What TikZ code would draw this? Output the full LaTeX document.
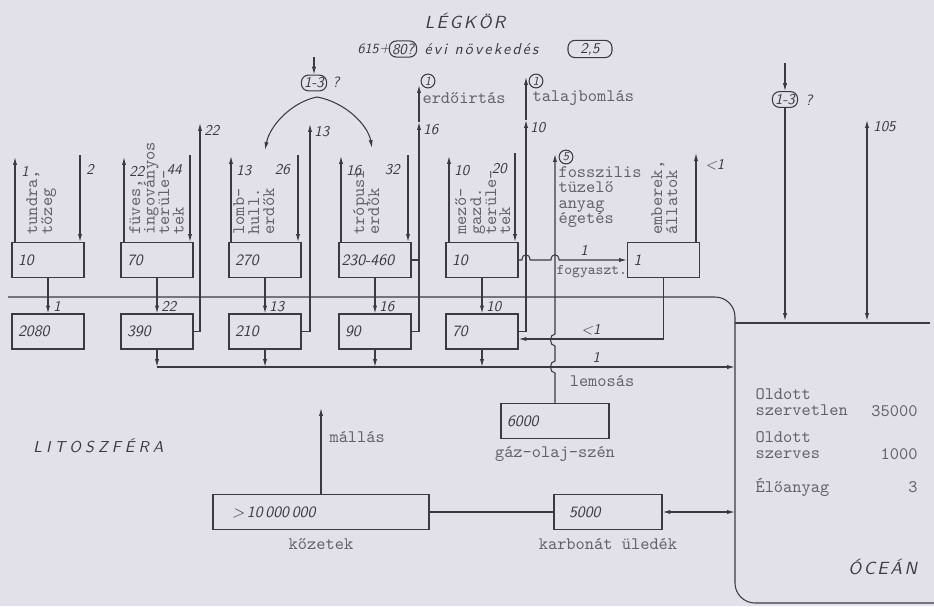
\documentclass[tikz,border=0pt]{standalone}
\usepackage{fontspec}
\usetikzlibrary{arrows.meta, positioning}
\newfontfamily\lettering{lmsans10-oblique.otf}[LetterSpace=14]
\newfontfamily\widelettering{lmsans10-oblique.otf}[LetterSpace=26]
\newfontfamily\numbering{lmsans10-oblique.otf}
\newcommand\titlefont{\lettering\fontsize{10}{10}\selectfont}
\newcommand\growthfont{\lettering\fontsize{9}{9}\selectfont}
\newcommand\litfont{\widelettering\fontsize{9}{9}\selectfont}
\newcommand\boxfont{\numbering\fontsize{9}{9}\selectfont}
\newcommand\flowfont{\numbering\fontsize{8.5}{8.5}\selectfont}
\newcommand\ringfont{\numbering\fontsize{7}{7}\selectfont}
\newcommand\typefont{\ttfamily\fontsize{10}{8.8}\selectfont}
\definecolor{paper}{RGB}{226,225,233}
\definecolor{ink}{RGB}{58,58,66}
\definecolor{typeink}{RGB}{98,98,108}

\begin{document}
\begin{tikzpicture}[x=0.02cm, y=-0.02cm, line width=0.6pt]
    \tikzset{
      poolbox/.style={draw=ink, minimum height=0.7cm, text width=1.2cm,
                      inner xsep=0.12cm, inner ysep=0pt, align=left,
                      font=\boxfont, text=ink},
      flowarrow/.style={draw=ink, -{Latex[length=4.5pt,width=2.4pt]}},
      exchange/.style={draw=ink, {Latex[length=4.5pt,width=2.4pt]}-{Latex[length=4.5pt,width=2.4pt]}},
      flowlink/.style={draw=ink},
      flownum/.style={font=\flowfont, text=ink, inner sep=1pt},
      typed/.style={font=\typefont, text=typeink, inner sep=0pt, align=left},
      sideline/.style={typed, rotate=90, anchor=base west},
      pill/.style={draw=ink, rounded corners=4pt, font=\flowfont, text=ink,
                   inner xsep=1.5pt, inner ysep=1.5pt, minimum height=0.28cm},
      ringed/.style={draw=ink, circle, font=\ringfont, text=ink, inner sep=0.7pt}}
    \fill[paper] (0,0) rectangle (934,606);
    \useasboundingbox (0,0) rectangle (934,606);

    % atmosphere heading
    \node[font=\titlefont, text=ink] (atmos) at (465,21) {LÉGKÖR};
    \node[font=\numbering\fontsize{8}{8}\selectfont, text=ink, anchor=west, inner sep=0] (stock) at (357,49) {615};
    \node[font=\numbering\fontsize{8}{8}\selectfont, text=ink, inner sep=0] (plus) at (385,49) {+};
    \node[pill] (extra) at (403,49) {80?};
    \node[font=\growthfont, text=ink, anchor=west, inner sep=0] (yearly) at (424,49) {évi növekedés};
    \node[pill, minimum width=0.88cm] (rate) at (590,49) {2,5};

    % biosphere pools
    \node[poolbox] (tundra) at (48,260) {10};
    \node[poolbox] (grass) at (157,260) {70};
    \node[poolbox] (decid) at (265,260) {270};
    \node[poolbox, inner xsep=0.05cm, text width=1.34cm] (tropic) at (375,260) {230-460};
    \node[poolbox] (farm) at (482,260) {10};
    \node[poolbox] (people) at (663.5,260) {1};

    % soil pools
    \node[poolbox] (tundrasoil) at (48,331.5) {2080};
    \node[poolbox] (grasssoil) at (157,331.5) {390};
    \node[poolbox] (decidsoil) at (265,331.5) {210};
    \node[poolbox] (tropicsoil) at (375,331.5) {90};
    \node[poolbox] (farmsoil) at (482,331.5) {70};

    % vegetation labels, one typed line each
    \node[sideline] (tundratxt1) at (37,235) {tundra,};
    \node[sideline] (tundratxt2) at (52,235) {tőzeg};
    \node[sideline] (grasstxt1) at (140,235) {füves,};
    \node[sideline] (grasstxt2) at (154.5,235) {ingoványos};
    \node[sideline] (grasstxt3) at (169,235) {terüle-};
    \node[sideline] (grasstxt4) at (183.5,235) {tek};
    \node[sideline] (decidtxt1) at (244,235) {lomb-};
    \node[sideline] (decidtxt2) at (259,235) {hull.};
    \node[sideline] (decidtxt3) at (274,235) {erdők};
    \node[sideline] (tropictxt1) at (364,235) {trópusi};
    \node[sideline] (tropictxt2) at (379,235) {erdők};
    \node[sideline] (farmtxt1) at (466,235) {mező-};
    \node[sideline] (farmtxt2) at (481,235) {gazd.};
    \node[sideline] (farmtxt3) at (496,235) {terüle-};
    \node[sideline] (farmtxt4) at (510,235) {tek};
    \node[sideline] (peopletxt1) at (662,235) {emberek,};
    \node[sideline] (peopletxt2) at (677,235) {állatok};

    % release and uptake
    \coordinate (tundraout) at (15,157);
    \coordinate (tundrain) at (80,155);
    \coordinate (grassout) at (124,157);
    \coordinate (grassin) at (190,155);
    \coordinate (decidout) at (231,156);
    \coordinate (decidin) at (298,155);
    \coordinate (tropicout) at (341,156);
    \coordinate (tropicin) at (408,155);
    \coordinate (farmout) at (449,156);
    \coordinate (farmin) at (515,153);
    \draw[flowarrow] (tundra.north -| tundraout) -- (tundraout) node[flownum, anchor=north west, xshift=0.08cm, yshift=-0.14cm] {1};
    \draw[flowarrow] (tundrain) node[flownum, anchor=north west, xshift=0.08cm, yshift=-0.14cm] {2} -- (tundra.north -| tundrain);
    \draw[flowarrow] (grass.north -| grassout) -- (grassout) node[flownum, anchor=north west, xshift=0.06cm, yshift=-0.14cm] {22};
    \draw[flowarrow] (grassin) node[flownum, anchor=north east, xshift=-0.12cm, yshift=-0.14cm] {44} -- (grass.north -| grassin);
    \draw[flowarrow] (decid.north -| decidout) -- (decidout) node[flownum, anchor=north west, xshift=0.06cm, yshift=-0.14cm] {13};
    \draw[flowarrow] (decidin) node[flownum, anchor=north east, xshift=-0.12cm, yshift=-0.14cm] {26} -- (decid.north -| decidin);
    \draw[flowarrow] (tropic.north -| tropicout) -- (tropicout) node[flownum, anchor=north west, xshift=0.06cm, yshift=-0.14cm] {16};
    \draw[flowarrow] (tropicin) node[flownum, anchor=north east, xshift=-0.12cm, yshift=-0.14cm] {32} -- (tropic.north -| tropicin);
    \draw[flowarrow] (farm.north -| farmout) -- (farmout) node[flownum, anchor=north west, xshift=0.06cm, yshift=-0.14cm] {10};
    \draw[flowarrow] (farmin) node[flownum, anchor=north east, xshift=-0.12cm, yshift=-0.16cm] {20} -- (farm.north -| farmin);

    % litter to soil
    \draw[flowarrow] (tundra) -- (tundrasoil) node[flownum, pos=0.8, anchor=west, xshift=0.06cm] {1};
    \draw[flowarrow] (grass) -- (grasssoil) node[flownum, pos=0.8, anchor=west, xshift=0.04cm] {22};
    \draw[flowarrow] (decid) -- (decidsoil) node[flownum, pos=0.8, anchor=west, xshift=0.04cm] {13};
    \draw[flowarrow] (tropic) -- (tropicsoil) node[flownum, pos=0.8, anchor=west, xshift=0.04cm] {16};
    \draw[flowarrow] (farm) -- (farmsoil) node[flownum, pos=0.8, anchor=west, xshift=0.04cm] {10};

    % soil respiration
    \coordinate (grassresp) at (200,123);
    \coordinate (decidresp) at (310,124);
    \coordinate (tropicresp) at (419,122);
    \coordinate (clearing) at (419,85);
    \coordinate (farmresp) at (526,120);
    \coordinate (decay) at (526,77);
    \draw[flowarrow] (grasssoil.east) -| (grassresp) node[flownum, anchor=north west, xshift=0.04cm] {22};
    \draw[flowarrow] (decidsoil.east) -| (decidresp) node[flownum, anchor=north west, xshift=0.04cm] {13};
    \draw[flowarrow] (tropicsoil.east) -| (tropicresp) node[flownum, anchor=north west, xshift=0.04cm] {16};
    \draw[flowarrow] (tropicresp) -- (clearing);
    \draw[flowlink] (tropic.east) -- (tropic.east -| tropicresp);
    \draw[flowarrow] (farmsoil.east) -| (farmresp) node[flownum, anchor=north west, xshift=0.04cm] {10};
    \draw[flowarrow] (farmresp) -- (decay);
    \node[ringed] (clearnum) at (428,81) {1};
    \node[typed, anchor=west] (cleartxt) at (422,98) {erdőirtás};
    \node[ringed] (decaynum) at (536,81) {1};
    \node[typed, anchor=west] (decaytxt) at (532,98) {talajbomlás};

    % unknown sink above the forests
    \coordinate (q1src) at (314,57);
    \coordinate (q1fork) at (317,97);
    \coordinate (decidq) at (265,150);
    \coordinate (tropicq) at (372,148);
    \node[pill] (q1) at (314,83) {1-3};
    \node[flownum, anchor=west] (q1mark) at (330,82) {?};
    \draw[flowarrow] (q1src) -- (q1);
    \draw[flowarrow] (q1fork) .. controls (292,102) and (270,125) .. (decidq);
    \draw[flowarrow] (q1fork) .. controls (345,102) and (368,125) .. (tropicq);

    % consumption
    \draw[flowarrow] (farm.east) -- (522,260) .. controls (522,253) and (530,253) .. (530,260)
        -- (551,260) .. controls (551,253) and (559,253) .. (559,260) -- (people.west);
    \node[flownum, anchor=south] (eatnum) at (584,258) {1};
    \node[typed, font=\ttfamily\fontsize{8.4}{8.4}\selectfont, anchor=west] (eattxt) at (556,272) {fogyaszt.};
    \coordinate (peopleresp) at (696,153);
    \draw[flowarrow] (people.north -| peopleresp) -- (peopleresp) node[flownum, anchor=north west, xshift=0.14cm, yshift=-0.08cm] {<1};
    \draw[flowarrow] (people.south) |- ([yshift=-0.15cm]farmsoil.east) node[flownum, pos=0.75, anchor=south, yshift=0.04cm] {<1};

    % washout to the ocean
    \coordinate (washstart) at (grasssoil.south |- 0,367);
    \coordinate (oceanwash) at (735,367);
    \draw[flowarrow] (washstart) -- (oceanwash) node[flownum, pos=0.76, anchor=south, yshift=0.04cm] {1}
        node[typed, pos=0.77, anchor=north, yshift=-0.16cm] {lemosás};
    \draw[flowarrow] (grasssoil) -- (washstart);
    \draw[flowarrow] (decidsoil) -- (decidsoil |- washstart);
    \draw[flowarrow] (tropicsoil) -- (tropicsoil |- washstart);
    \draw[flowarrow] (farmsoil) -- (farmsoil |- washstart);

    % fossil fuels
    \node[poolbox, text width=1.92cm] (fossil) at (555,421) {6000};
    \node[typed, below=0.14cm of fossil] (fossiltxt) {gáz-olaj-szén};
    \coordinate (burning) at (555,154);
    \draw[flowarrow] (fossil.north) -- (555,373) .. controls (549,373) and (549,361) .. (555,361)
        -- (555,346) .. controls (549,346) and (549,334) .. (555,334) -- (burning);
    \node[ringed] (burnnum) at (566,157) {5};
    \node[typed, anchor=north west] (burntxt) at (558,166) {fosszilis\\tüzelő\\anyag\\égetés};

    % lithosphere
    \node[font=\litfont, text=ink, anchor=west] (litho) at (27,446) {LITOSZFÉRA};
    \node[poolbox, text width=3.56cm, inner xsep=0.38cm] (rocks) at (321,512) {>\,10\,000\,000};
    \node[typed, below=0.16cm of rocks] (rockstxt) {kőzetek};
    \coordinate (weathering) at (321,408);
    \draw[flowarrow] (rocks.north) -- (weathering);
    \node[typed, anchor=west] (weathertxt) at (329,437) {mállás};
    \node[poolbox, text width=1.56cm, inner xsep=0.3cm] (carbonate) at (608,512) {5000};
    \node[typed, below=0.16cm of carbonate] (carbtxt) {karbonát üledék};
    \draw[flowlink] (rocks) -- (carbonate);
    \coordinate (oceansed) at (735,512);
    \draw[exchange] (carbonate) -- (oceansed);

    % ocean
    \draw[draw=ink, rounded corners=0.4cm] (8,297) -- (735,297) -- (735,603) -- (934,603);
    \draw[draw=ink] (735,323) -- (930,323);
    \node[typed, anchor=south west] (inorg) at (755,416) {Oldott\\szervetlen};
    \node[typed, anchor=base east] (inorgval) at (918,416) {35000};
    \node[typed, anchor=south west] (org) at (755,459) {Oldott\\szerves};
    \node[typed, anchor=base east] (orgval) at (918,459) {1000};
    \node[typed, anchor=base west] (biota) at (755,492) {Élőanyag};
    \node[typed, anchor=base east] (biotaval) at (918,492) {3};
    \node[font=\titlefont, text=ink, anchor=west] (ocean) at (842,567) {ÓCEÁN};

    % air-sea exchange
    \coordinate (q2src) at (785,63);
    \coordinate (oceanin) at (785,321);
    \node[pill] (q2) at (785,99.5) {1-3};
    \node[flownum, anchor=west] (q2mark) at (803,100) {?};
    \draw[flowarrow] (q2src) -- (q2);
    \draw[flowarrow] (q2) -- (oceanin);
    \coordinate (oceanout) at (867,120);
    \coordinate (oceanhub) at (867,321);
    \draw[exchange] (oceanhub) -- (oceanout) node[flownum, anchor=north west, xshift=0.08cm, yshift=0.02cm] {105};
  \end{tikzpicture}
\end{document}
